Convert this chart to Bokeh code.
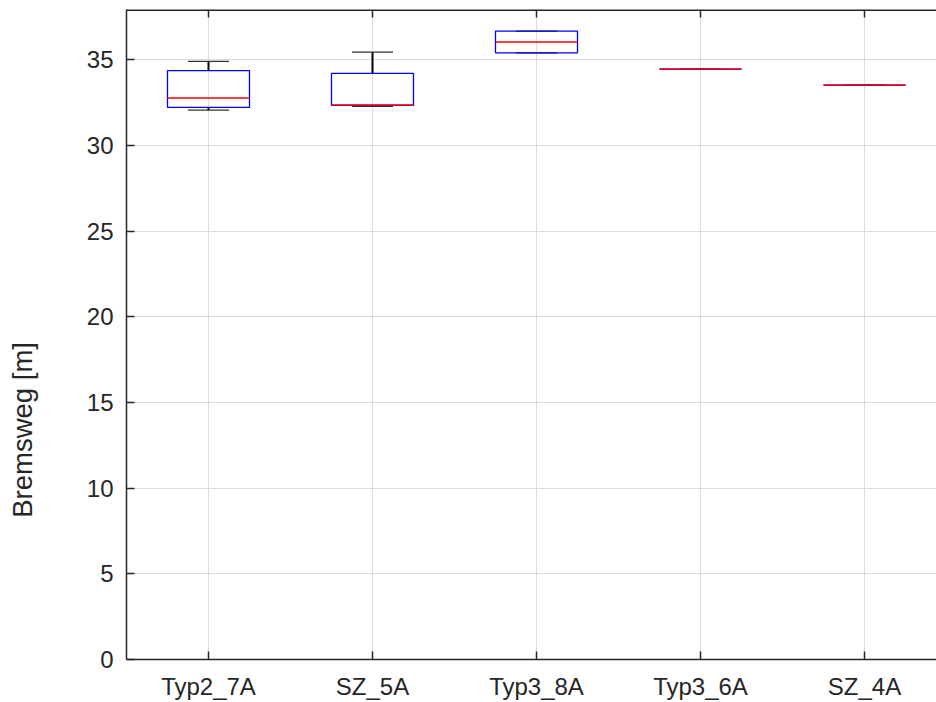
import math
from bokeh.plotting import figure
from bokeh.layouts import row
from bokeh.models import Range1d, FixedTicker, LinearAxis, Grid
from bokeh.core.properties import value
from bokeh.embed import file_html
from bokeh.resources import INLINE

categories = ["Typ2_7A", "SZ_5A", "Typ3_8A", "Typ3_6A", "SZ_4A"]
upper_whisker = [34.91, 35.45, 36.68, 34.46, 33.53]
q3 = [34.37, 34.21, 36.68, 34.46, 33.53]
median = [32.77, 32.36, 36.04, 34.46, 33.53]
q1 = [32.23, 32.34, 35.41, 34.46, 33.53]
lower_whisker = [32.07, 32.28, 35.41, 34.46, 33.53]
y_ticks = [0, 5, 10, 15, 20, 25, 30, 35]
y_label = "Bremsweg [m]"

xs = list(range(1, len(categories) + 1))
bw = 0.25   # half box width
cw = 0.125  # half cap width
ymax = 37.94

font = "Liberation Sans"
tc = "#262626"

LW = 40  # width of the strip holding the y-axis title

p = figure(width=936 - LW, height=702, output_backend="svg", toolbar_location=None,
           x_range=Range1d(0.5, 5.439), y_range=Range1d(0, ymax),
           min_border_left=126 - LW, min_border_top=9, min_border_bottom=43,
           min_border_right=0, x_axis_location=None, y_axis_location=None)
p.outline_line_color = None
p.background_fill_color = "white"
p.border_fill_color = "white"

xaxis = LinearAxis(ticker=FixedTicker(ticks=xs),
                   major_label_overrides={x: c for x, c in zip(xs, categories)})
yaxis = LinearAxis(ticker=FixedTicker(ticks=y_ticks))
for ax in (xaxis, yaxis):
    ax.axis_line_color = tc
    ax.axis_line_width = 1.5
    ax.major_tick_line_color = tc
    ax.major_tick_line_width = 1.5
    ax.major_tick_in = 8
    ax.major_tick_out = 0
    ax.minor_tick_line_color = None
    ax.major_label_text_font = font
    ax.major_label_text_color = tc
    ax.major_label_text_font_size = "24px"
xaxis.major_label_standoff = 13
yaxis.major_label_standoff = 13
p.add_layout(xaxis, "below")
p.add_layout(yaxis, "left")

p.add_layout(Grid(dimension=0, ticker=xaxis.ticker, grid_line_color="#dcdcdc", grid_line_width=1))
p.add_layout(Grid(dimension=1, ticker=yaxis.ticker, grid_line_color="#dcdcdc", grid_line_width=1))

# top border line and its inward ticks
tick_len = 8 / 650 * ymax
p.segment(x0=[0.5], y0=[ymax], x1=[5.439], y1=[ymax], line_color=tc, line_width=3)
p.segment(x0=xs, y0=[ymax] * len(xs), x1=xs, y1=[ymax - tick_len] * len(xs),
          line_color=tc, line_width=1.5)

# whiskers
p.segment(x0=xs, y0=q3, x1=xs, y1=upper_whisker, line_color="black", line_width=2)
p.segment(x0=xs, y0=q1, x1=xs, y1=lower_whisker, line_color="black", line_width=2)
p.segment(x0=[x - cw for x in xs], y0=upper_whisker, x1=[x + cw for x in xs], y1=upper_whisker,
          line_color="#333333", line_width=1.3)
p.segment(x0=[x - cw for x in xs], y0=lower_whisker, x1=[x + cw for x in xs], y1=lower_whisker,
          line_color="#333333", line_width=1.3)
# boxes
p.quad(left=[x - bw for x in xs], right=[x + bw for x in xs], bottom=q1, top=q3,
       fill_color=None, line_color="blue", line_width=1.3)
# medians
p.segment(x0=[x - bw for x in xs], y0=median, x1=[x + bw for x in xs], y1=median,
          line_color="red", line_width=1.5)

# strip with the y-axis title (placed as in the reference, below the vertical centre)
t = figure(width=LW, height=702, output_backend="svg", toolbar_location=None,
           x_range=Range1d(0, LW), y_range=Range1d(0, 702),
           min_border=0, x_axis_location=None, y_axis_location=None)
t.outline_line_color = None
t.xgrid.visible = False
t.ygrid.visible = False
t.background_fill_color = "white"
t.border_fill_color = "white"
t.text(x=[22], y=[702 - 431 - 23], text=[y_label], angle=math.pi / 2,
       text_align="center", text_baseline="middle",
       text_font=value(font), text_font_size="27.5px", text_color=tc)

layout = row(t, p, spacing=0)
open("out.html", "w").write(file_html(layout, INLINE))
